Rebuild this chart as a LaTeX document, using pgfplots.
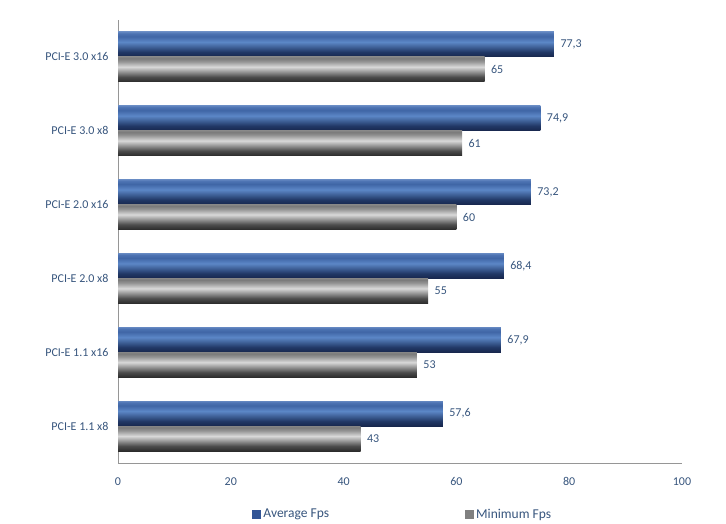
\documentclass[border=0pt]{standalone}
\usepackage{pgfplots}
\pgfplotsset{compat=1.18}
\usepackage{fontspec}
\setmainfont{Carlito}
\definecolor{txt}{RGB}{55,85,125}
\definecolor{axc}{RGB}{150,150,150}
\definecolor{legb}{RGB}{50,85,150}
\definecolor{legg}{RGB}{128,128,128}
\pgfdeclareverticalshading{bluebar}{100bp}{%
  rgb(0bp)=(0.09,0.15,0.30); rgb(25bp)=(0.09,0.15,0.30);
  rgb(35bp)=(0.13,0.22,0.40); rgb(55bp)=(0.36,0.53,0.78);
  rgb(66bp)=(0.25,0.40,0.65); rgb(72bp)=(0.30,0.45,0.70);
  rgb(75bp)=(0.38,0.52,0.75); rgb(100bp)=(0.38,0.52,0.75)}
\pgfdeclareverticalshading{graybar}{100bp}{%
  rgb(0bp)=(0.17,0.17,0.17); rgb(25bp)=(0.17,0.17,0.17);
  rgb(35bp)=(0.30,0.30,0.30); rgb(55bp)=(0.85,0.85,0.85);
  rgb(66bp)=(0.58,0.58,0.58); rgb(72bp)=(0.48,0.48,0.48);
  rgb(75bp)=(0.52,0.52,0.52); rgb(100bp)=(0.52,0.52,0.52)}
\begin{document}
\begin{tikzpicture}
\useasboundingbox (0,0) rectangle (726pt,523pt);
\begin{axis}[
  at={(118pt,60pt)}, anchor=south west,
  scale only axis, width=564pt, height=443pt,
  xmin=0, xmax=100, ymin=-0.5, ymax=5.5,
  axis x line*=bottom, axis y line*=left,
  axis line style={axc, line width=0.8pt, -},
  xtick={0,20,40,60,80,100},
  ytick={0,1,2,3,4,5},
  yticklabels={PCI-E 1.1 x8,PCI-E 1.1 x16,PCI-E 2.0 x8,PCI-E 2.0 x16,PCI-E 3.0 x8,PCI-E 3.0 x16},
  major tick length=0pt,
  tick label style={font=\fontsize{12}{14}\selectfont, text=txt},
  xticklabel style={yshift=-11pt},
  yticklabel style={xshift=-6pt},
  /pgf/number format/assume math mode=true,
  xbar, bar width=25pt, bar shift=0pt,
  point meta=explicit symbolic,
  nodes near coords,
  nodes near coords style={font=\fontsize{12}{14}\selectfont, text=txt, anchor=west, xshift=3pt},
  legend columns=2,
  legend style={draw=none, fill=none, at={(0.505,-0.116)}, anchor=center,
    font=\fontsize{13.5}{15}\selectfont, text=txt,
    /tikz/every even column/.append style={column sep=134pt},
    /tikz/every odd column/.append style={column sep=0pt},
    /tikz/every node/.append style={inner xsep=2pt}},
  legend image code/.code={\fill[#1] (2pt,-4.5pt) rectangle (11pt,4.5pt);},
  avg/.style={draw=none, shading=bluebar, forget plot},
  mn/.style={draw=none, shading=graybar, forget plot},
]
\addlegendimage{fill=legb, draw=none}
\addlegendentry{Average Fps}
\addlegendimage{fill=legg, draw=none}
\addlegendentry{Minimum Fps}
% Average Fps
\addplot[avg] coordinates {(57.6,0.169) [{57,6}]};
\addplot[avg] coordinates {(67.9,1.169) [{67,9}]};
\addplot[avg] coordinates {(68.4,2.169) [{68,4}]};
\addplot[avg] coordinates {(73.2,3.169) [{73,2}]};
\addplot[avg] coordinates {(74.9,4.169) [{74,9}]};
\addplot[avg] coordinates {(77.3,5.169) [{77,3}]};
% Minimum Fps
\addplot[mn] coordinates {(43,-0.169) [43]};
\addplot[mn] coordinates {(53,0.831) [53]};
\addplot[mn] coordinates {(55,1.831) [55]};
\addplot[mn] coordinates {(60,2.831) [60]};
\addplot[mn] coordinates {(61,3.831) [61]};
\addplot[mn] coordinates {(65,4.831) [65]};
\end{axis}
\end{tikzpicture}
\end{document}
